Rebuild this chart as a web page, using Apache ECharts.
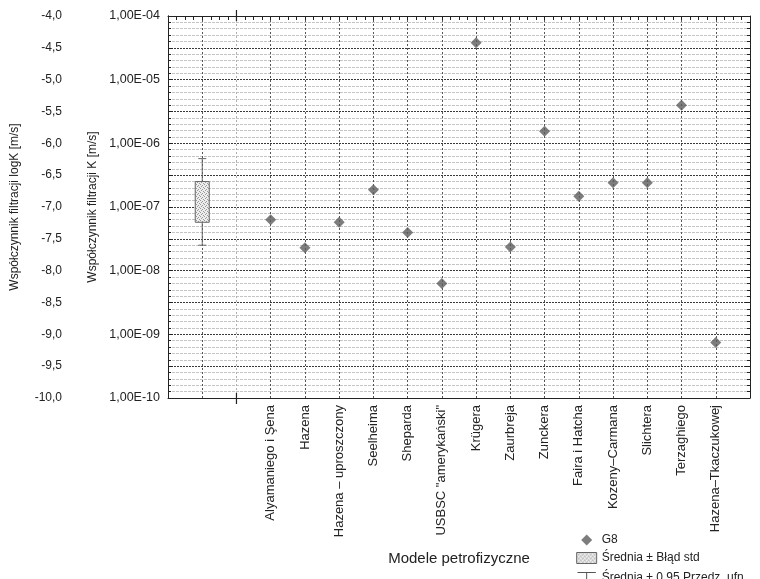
<!DOCTYPE html>
<html><head><meta charset="utf-8">
<script src="https://cdn.jsdelivr.net/npm/echarts@6/dist/echarts.min.js"></script>
<style>html,body{margin:0;padding:0;background:#fff}#c{width:760px;height:579px}</style>
</head><body><div id="c"></div>
<script>
// ---- data ----
const categories = ['Alyamaniego i Şena','Hazena','Hazena – uproszczony','Seelheima','Sheparda','USBSC "amerykański"','Krügera','Zaurbreja','Zunckera','Faira i Hatcha','Kozeny–Carmana','Slichtera','Terzaghiego','Hazena–Tkaczukowej'];
const g8LogK = [-7.20,-7.64,-7.24,-6.73,-7.40,-8.20,-4.42,-7.63,-5.81,-6.83,-6.62,-6.62,-5.40,-9.13];
const meanLogK = -6.92;
const seRange = [-7.24, -6.60];   // Średnia ± Błąd std
const ciRange = [-7.60, -6.24];   // Średnia ± 0,95 Przedz. ufn.
const kTickValues = [-10,-9,-8,-7,-6,-5,-4];
const kTickLabels = ['1,00E-10','1,00E-09','1,00E-08','1,00E-07','1,00E-06','1,00E-05','1,00E-04'];

const FONT = 'Liberation Sans, Arial, sans-serif';
const BOX_X = 1, SEP_X = 2, FIRST_X = 3, X_MAX = categories.length + 4 - 1; // 17
const xLabels = [];
for (let i = 0; i <= X_MAX; i++) xLabels.push('');
categories.forEach((c, i) => { xLabels[i + FIRST_X] = c; });
const vColors = xLabels.map((_, i) => i === SEP_X ? '#b0b0b0' : '#555');

// stipple pattern for the box
const pc = document.createElement('canvas'); pc.width = 4; pc.height = 4;
const ctx = pc.getContext('2d');
ctx.fillStyle = '#ededed'; ctx.fillRect(0,0,4,4);
ctx.fillStyle = '#9a9a9a';
ctx.fillRect(0,0,1,1); ctx.fillRect(2,1,1,1); ctx.fillRect(1,2,1,1); ctx.fillRect(3,3,1,1);
const pattern = {image: pc, repeat: 'repeat'};

const axisColor = '#222';
const chart = echarts.init(document.getElementById('c'));
chart.setOption({
  animation: false,
  backgroundColor: '#fff',
  textStyle: {fontFamily: FONT},
  grid: {left: 168, right: 10, top: 16, bottom: 181},
  legend: {
    orient: 'vertical', left: 570, top: 529, height: 90, itemWidth: 20, itemHeight: 11, itemGap: 6,
    selectedMode: false, symbolKeepAspect: true,
    textStyle: {fontSize: 12, color: '#222', fontFamily: FONT},
    data: [
      {name: 'G8', icon: 'path://M5,0L10,5L5,10L0,5Z', itemStyle: {color: '#5c5c5c'}},
      {name: 'Średnia ± Błąd std', icon: 'rect', itemStyle: {color: pattern, borderColor: '#666', borderWidth: 1}},
      {name: 'Średnia ± 0,95 Przedz. ufn.', icon: 'path://M0,0L20,0M10,0L10,12', itemStyle: {color: 'none', borderColor: '#555', borderWidth: 1}}
    ]
  },
  xAxis: [
    {
      type: 'value', position: 'bottom', min: 0, max: X_MAX, interval: 1,
      axisLine: {show: true, lineStyle: {color: axisColor}},
      axisTick: {show: false},
      axisLabel: {rotate: 90, fontSize: 13, color: '#222', margin: 7, fontFamily: FONT,
        formatter: v => xLabels[v] || ''},
      splitLine: {show: true, lineStyle: {color: vColors, type: [2, 2], width: 1}},
      name: 'Modele petrofizyczne', nameLocation: 'middle', nameGap: 153,
      nameTextStyle: {fontSize: 15, color: '#222', fontFamily: FONT}
    },
    {
      type: 'value', position: 'top', min: 0, max: X_MAX, interval: 1,
      axisLine: {show: true, lineStyle: {color: axisColor}},
      axisTick: {show: true, inside: true, length: 4, lineStyle: {color: axisColor}},
      minorTick: {show: true, splitNumber: 4, length: 4, lineStyle: {color: axisColor}},
      axisLabel: {show: false}, splitLine: {show: false}
    }
  ],
  yAxis: [
    {
      type: 'value', position: 'left', offset: 98, min: -10, max: -4, interval: 0.5,
      axisLine: {show: true, lineStyle: {color: axisColor}},
      axisTick: {show: true, inside: true, length: 5, lineStyle: {color: axisColor}},
      minorTick: {show: true, splitNumber: 5, length: 3, lineStyle: {color: axisColor}},
      axisLabel: {fontSize: 12, color: '#222', margin: 8, fontFamily: FONT,
        formatter: v => v.toFixed(1).replace('.', ',')},
      splitLine: {show: false},
      name: 'Współczynnik filtracji logK [m/s]', nameLocation: 'middle', nameGap: 49,
      nameTextStyle: {fontSize: 12, color: '#222', fontFamily: FONT}
    },
    {
      type: 'value', position: 'left', offset: 0, min: -10, max: -4, interval: 0.5,
      axisLine: {show: true, lineStyle: {color: axisColor}},
      axisTick: {show: true, inside: true, length: 5, lineStyle: {color: axisColor}},
      minorTick: {show: true, splitNumber: 5, length: 3, lineStyle: {color: axisColor}},
      axisLabel: {fontSize: 12.5, color: '#222', margin: 8, fontFamily: FONT,
        formatter: v => { const i = kTickValues.indexOf(Math.round(v * 10) / 10); return i >= 0 ? kTickLabels[i] : ''; }},
      splitLine: {show: true, lineStyle: {color: '#3a3a3a', type: [2, 1], width: 1}},
      minorSplitLine: {show: true, lineStyle: {color: '#c4c4c4', type: [3, 1], width: 1}},
      name: 'Współczynnik filtracji K [m/s]', nameLocation: 'middle', nameGap: 69,
      nameTextStyle: {fontSize: 12, color: '#222', fontFamily: FONT}
    },
    {
      type: 'value', position: 'right', min: -10, max: -4, interval: 0.5,
      axisLine: {show: true, lineStyle: {color: axisColor}},
      axisTick: {show: true, inside: true, length: 5, lineStyle: {color: axisColor}},
      minorTick: {show: true, splitNumber: 5, length: 3, lineStyle: {color: axisColor}},
      axisLabel: {show: false}, splitLine: {show: false}
    }
  ],
  series: [
    {
      name: 'Średnia ± 0,95 Przedz. ufn.', type: 'custom', xAxisIndex: 0, yAxisIndex: 1, z: 3,
      itemStyle: {color: 'none', borderColor: '#555', borderWidth: 1},
      data: [[BOX_X, ciRange[0], ciRange[1]]],
      renderItem: (params, api) => {
        const x = api.value(0);
        const lo = api.coord([x, api.value(1)]);
        const hi = api.coord([x, api.value(2)]);
        const cw = 4, st = {stroke: '#666', lineWidth: 1};
        return {type: 'group', children: [
          {type: 'line', shape: {x1: lo[0], y1: lo[1], x2: hi[0], y2: hi[1]}, style: st},
          {type: 'line', shape: {x1: lo[0] - cw, y1: lo[1], x2: lo[0] + cw, y2: lo[1]}, style: st},
          {type: 'line', shape: {x1: hi[0] - cw, y1: hi[1], x2: hi[0] + cw, y2: hi[1]}, style: st}
        ]};
      }
    },
    {
      name: 'Średnia ± Błąd std', type: 'custom', xAxisIndex: 0, yAxisIndex: 1, z: 4,
      itemStyle: {color: pattern, borderColor: '#666', borderWidth: 1},
      data: [[BOX_X, seRange[0], seRange[1], meanLogK]],
      renderItem: (params, api) => {
        const x = api.value(0);
        const lo = api.coord([x, api.value(1)]);
        const hi = api.coord([x, api.value(2)]);
        const w = 14;
        return {type: 'rect', shape: {x: lo[0] - w / 2, y: hi[1], width: w, height: lo[1] - hi[1]},
          style: {fill: pattern, stroke: '#666', lineWidth: 1}};
      }
    },
    {
      name: 'separator', type: 'custom', xAxisIndex: 0, yAxisIndex: 1, silent: true, z: 6,
      data: [[SEP_X, -10, -4]],
      renderItem: (params, api) => {
        const b = api.coord([api.value(0), api.value(1)]);
        const t = api.coord([api.value(0), api.value(2)]);
        const st = {stroke: '#222', lineWidth: 1.2};
        return {type: 'group', children: [
          {type: 'line', shape: {x1: b[0], y1: b[1] - 5, x2: b[0], y2: b[1] + 6}, style: st},
          {type: 'line', shape: {x1: t[0], y1: t[1] - 6, x2: t[0], y2: t[1] + 5}, style: st}
        ]};
      }
    },
    {
      name: 'G8', type: 'scatter', xAxisIndex: 0, yAxisIndex: 1, z: 5,
      symbol: 'diamond', symbolSize: 11,
      itemStyle: {color: '#5c5c5c'},
      data: g8LogK.map((v, i) => [i + FIRST_X, v])
    }
  ]
});
</script>
</body></html>
